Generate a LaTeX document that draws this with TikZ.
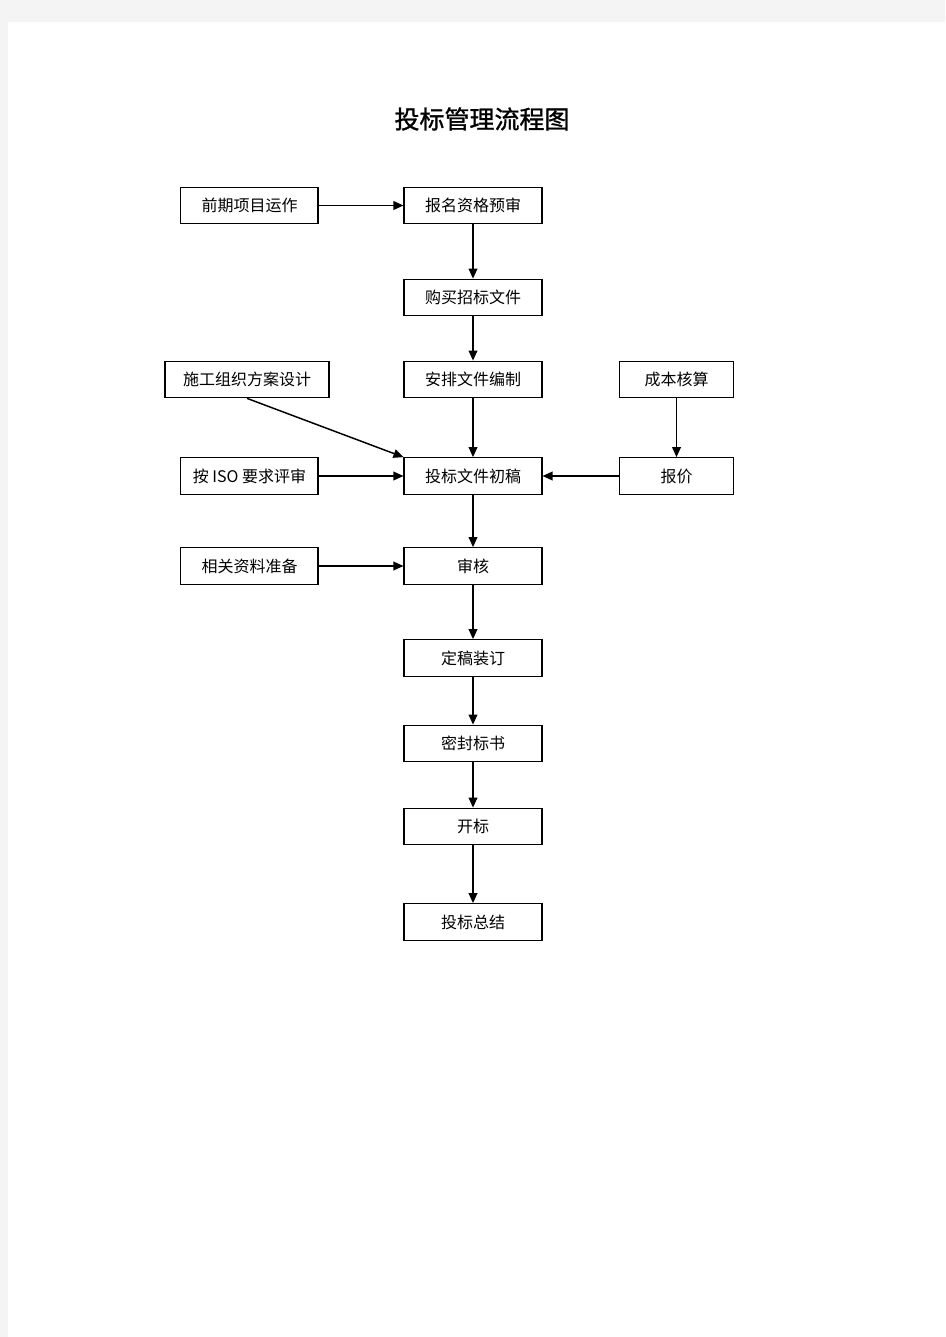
\documentclass[tikz,border=0pt]{standalone}
\usepackage{fontspec}
\newfontfamily\cjk{Noto Sans CJK SC}
\newfontfamily\cjktitle[UprightFeatures={FakeBold=1.2}]{Noto Sans CJK SC}
\usetikzlibrary{arrows.meta}
\definecolor{pagebg}{HTML}{F4F4F4}
\tikzset{
  box/.style={draw=black, line width=0.8pt, fill=white, minimum height=27.5pt, inner sep=0pt,
    font=\cjk\fontsize{12pt}{14pt}\selectfont,
    path picture={\draw[line width=1.6pt] (path picture bounding box.north east) -- (path picture bounding box.south east);}},
  arr/.style={line width=1.1pt, -{Triangle[length=7.5pt,width=6.5pt]}}
}
\begin{document}
\begin{tikzpicture}[x=0.75pt,y=-0.75pt]
\useasboundingbox (0,0) rectangle (945,1337);
\fill[pagebg] (0,0) rectangle (945,1337);
\fill[white] (8,22) rectangle (945,1337);
\node[font=\cjktitle\fontsize{18.75pt}{22pt}\selectfont] (title) at (482,119) {投标管理流程图};
\node[box, minimum width=103pt] (a) at (249.5,205.5) {前期项目运作};
\node[box, minimum width=103.5pt] (b) at (473,205.5) {报名资格预审};
\node[box, minimum width=103.5pt] (c) at (473,297.5) {购买招标文件};
\node[box, minimum width=123pt] (d) at (247,379.5) {施工组织方案设计};
\node[box, minimum width=103.5pt] (e) at (473,379.5) {安排文件编制};
\node[box, minimum width=86pt] (f) at (676.5,379.5) {成本核算};
\node[box, minimum width=103pt] (g) at (249.5,476) {按 ISO 要求评审};
\node[box, minimum width=103.5pt] (h) at (473,476) {投标文件初稿};
\node[box, minimum width=86pt] (i) at (676.5,476) {报价};
\node[box, minimum width=103pt] (j) at (249.5,566) {相关资料准备};
\node[box, minimum width=103.5pt] (k) at (473,566) {审核};
\node[box, minimum width=103.5pt] (l) at (473,658) {定稿装订};
\node[box, minimum width=103.5pt] (m) at (473,743.5) {密封标书};
\node[box, minimum width=103.5pt] (n) at (473,826.5) {开标};
\node[box, minimum width=103.5pt] (o) at (473,922) {投标总结};
\draw[arr] (a) -- (b);
\draw[arr] (b) -- (c);
\draw[arr] (c) -- (e);
\draw[arr] (e) -- (h);
\draw[arr] (d.south) -- (h.north west);
\draw[arr] (f) -- (i);
\draw[arr] (g) -- (h);
\draw[arr] (i) -- (h);
\draw[arr] (h) -- (k);
\draw[arr] (j) -- (k);
\draw[arr] (k) -- (l);
\draw[arr] (l) -- (m);
\draw[arr] (m) -- (n);
\draw[arr] (n) -- (o);
\end{tikzpicture}
\end{document}
